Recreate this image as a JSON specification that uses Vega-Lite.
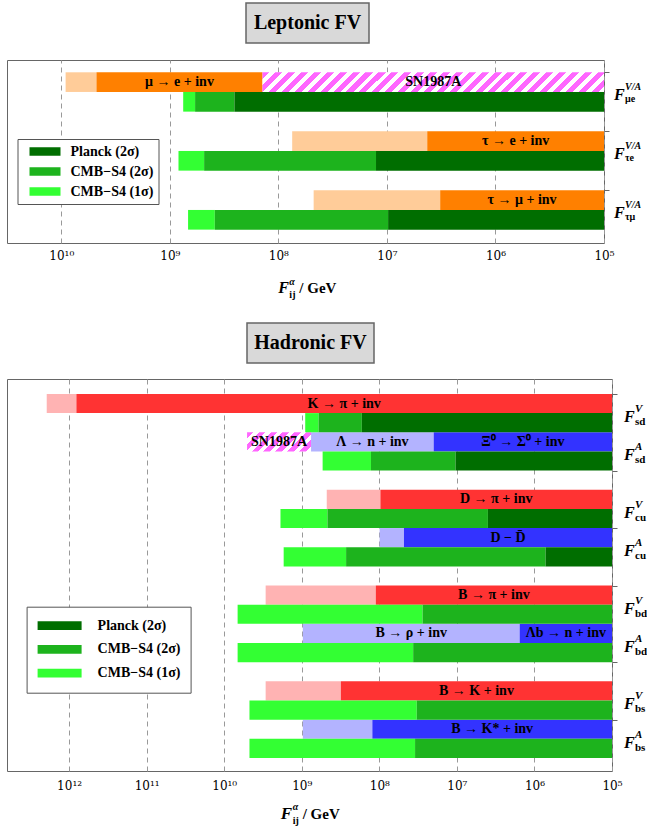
{
  "$schema": "https://vega.github.io/schema/vega-lite/v6.json",
  "padding": {"left": 6, "top": 2, "right": 0, "bottom": 0},
  "background": "white",
  "datasets": {
    "lep_exp": [
      {"slot": 0, "slotEnd": 1, "from": 9120000000, "to": 4740000000, "shade": "light orange"},
      {"slot": 0, "slotEnd": 1, "from": 4740000000, "to": 140000000, "shade": "orange", "label": "μ → e + inv"},
      {"slot": 0, "slotEnd": 1, "from": 140000000, "to": 100000, "shade": "hatch", "label": "SN1987A"},
      {"slot": 3, "slotEnd": 4, "from": 74600000, "to": 4250000, "shade": "light orange"},
      {"slot": 3, "slotEnd": 4, "from": 4250000, "to": 100000, "shade": "orange", "label": "τ → e + inv"},
      {"slot": 6, "slotEnd": 7, "from": 47300000, "to": 3230000, "shade": "light orange"},
      {"slot": 6, "slotEnd": 7, "from": 3230000, "to": 100000, "shade": "orange", "label": "τ → μ + inv"}
    ],
    "lep_cmb": [
      {"slot": 1, "slotEnd": 2, "from": 753000000, "to": 585000000, "source": "CMB−S4 (1σ)"},
      {"slot": 1, "slotEnd": 2, "from": 585000000, "to": 254000000, "source": "CMB−S4 (2σ)"},
      {"slot": 1, "slotEnd": 2, "from": 254000000, "to": 100000, "source": "Planck (2σ)"},
      {"slot": 4, "slotEnd": 5, "from": 832000000, "to": 483000000, "source": "CMB−S4 (1σ)"},
      {"slot": 4, "slotEnd": 5, "from": 483000000, "to": 12600000, "source": "CMB−S4 (2σ)"},
      {"slot": 4, "slotEnd": 5, "from": 12600000, "to": 100000, "source": "Planck (2σ)"},
      {"slot": 7, "slotEnd": 8, "from": 679000000, "to": 385000000, "source": "CMB−S4 (1σ)"},
      {"slot": 7, "slotEnd": 8, "from": 385000000, "to": 9750000, "source": "CMB−S4 (2σ)"},
      {"slot": 7, "slotEnd": 8, "from": 9750000, "to": 100000, "source": "Planck (2σ)"}
    ],
    "lep_F": [
      {"slot": 1, "sup": "V/A", "sub": "μe"},
      {"slot": 4, "sup": "V/A", "sub": "τe"},
      {"slot": 7, "sup": "V/A", "sub": "τμ"}
    ],
    "had_exp": [
      {"slot": 0, "slotEnd": 1, "from": 1940000000000, "to": 804000000000, "shade": "light red"},
      {"slot": 0, "slotEnd": 1, "from": 804000000000, "to": 100000, "shade": "red", "label": "K → π + inv"},
      {"slot": 2, "slotEnd": 3, "from": 5070000000, "to": 759000000, "shade": "hatch", "label": "SN1987A"},
      {"slot": 2, "slotEnd": 3, "from": 759000000, "to": 19900000, "shade": "light blue", "label": "Λ → n + inv"},
      {"slot": 2, "slotEnd": 3, "from": 19900000, "to": 100000, "shade": "blue", "label": "Ξ⁰ → Σ⁰ + inv"},
      {"slot": 5, "slotEnd": 6, "from": 476000000, "to": 96800000, "shade": "light red"},
      {"slot": 5, "slotEnd": 6, "from": 96800000, "to": 100000, "shade": "red", "label": "D → π + inv"},
      {"slot": 7, "slotEnd": 8, "from": 99100000, "to": 48100000, "shade": "light blue"},
      {"slot": 7, "slotEnd": 8, "from": 48100000, "to": 100000, "shade": "blue", "label": "D − D̄"},
      {"slot": 10, "slotEnd": 11, "from": 2920000000, "to": 111000000, "shade": "light red"},
      {"slot": 10, "slotEnd": 11, "from": 111000000, "to": 100000, "shade": "red", "label": "B → π + inv"},
      {"slot": 12, "slotEnd": 13, "from": 968000000, "to": 1550000, "shade": "light blue", "label": "B → ρ + inv"},
      {"slot": 12, "slotEnd": 13, "from": 1550000, "to": 100000, "shade": "blue", "label": "Λb → n + inv"},
      {"slot": 15, "slotEnd": 16, "from": 2920000000, "to": 313000000, "shade": "light red"},
      {"slot": 15, "slotEnd": 16, "from": 313000000, "to": 100000, "shade": "red", "label": "B → K + inv"},
      {"slot": 17, "slotEnd": 18, "from": 968000000, "to": 123000000, "shade": "light blue"},
      {"slot": 17, "slotEnd": 18, "from": 123000000, "to": 100000, "shade": "blue", "label": "B → K* + inv"}
    ],
    "had_cmb": [
      {"slot": 1, "slotEnd": 2, "from": 902000000, "to": 607000000, "source": "CMB−S4 (1σ)"},
      {"slot": 1, "slotEnd": 2, "from": 607000000, "to": 168000000, "source": "CMB−S4 (2σ)"},
      {"slot": 1, "slotEnd": 2, "from": 168000000, "to": 100000, "source": "Planck (2σ)"},
      {"slot": 3, "slotEnd": 4, "from": 538000000, "to": 128000000, "source": "CMB−S4 (1σ)"},
      {"slot": 3, "slotEnd": 4, "from": 128000000, "to": 10400000, "source": "CMB−S4 (2σ)"},
      {"slot": 3, "slotEnd": 4, "from": 10400000, "to": 100000, "source": "Planck (2σ)"},
      {"slot": 6, "slotEnd": 7, "from": 1880000000, "to": 466000000, "source": "CMB−S4 (1σ)"},
      {"slot": 6, "slotEnd": 7, "from": 466000000, "to": 3980000, "source": "CMB−S4 (2σ)"},
      {"slot": 6, "slotEnd": 7, "from": 3980000, "to": 100000, "source": "Planck (2σ)"},
      {"slot": 8, "slotEnd": 9, "from": 1710000000, "to": 268000000, "source": "CMB−S4 (1σ)"},
      {"slot": 8, "slotEnd": 9, "from": 268000000, "to": 718000, "source": "CMB−S4 (2σ)"},
      {"slot": 8, "slotEnd": 9, "from": 718000, "to": 100000, "source": "Planck (2σ)"},
      {"slot": 11, "slotEnd": 12, "from": 6710000000, "to": 27700000, "source": "CMB−S4 (1σ)"},
      {"slot": 11, "slotEnd": 12, "from": 27700000, "to": 100000, "source": "CMB−S4 (2σ)"},
      {"slot": 13, "slotEnd": 14, "from": 6710000000, "to": 36600000, "source": "CMB−S4 (1σ)"},
      {"slot": 13, "slotEnd": 14, "from": 36600000, "to": 100000, "source": "CMB−S4 (2σ)"},
      {"slot": 16, "slotEnd": 17, "from": 4720000000, "to": 32900000, "source": "CMB−S4 (1σ)"},
      {"slot": 16, "slotEnd": 17, "from": 32900000, "to": 100000, "source": "CMB−S4 (2σ)"},
      {"slot": 18, "slotEnd": 19, "from": 4720000000, "to": 34600000, "source": "CMB−S4 (1σ)"},
      {"slot": 18, "slotEnd": 19, "from": 34600000, "to": 100000, "source": "CMB−S4 (2σ)"}
    ],
    "had_F": [
      {"slot": 1, "sup": "V", "sub": "sd"},
      {"slot": 3, "sup": "A", "sub": "sd"},
      {"slot": 6, "sup": "V", "sub": "cu"},
      {"slot": 8, "sup": "A", "sub": "cu"},
      {"slot": 11, "sup": "V", "sub": "bd"},
      {"slot": 13, "sup": "A", "sub": "bd"},
      {"slot": 16, "sup": "V", "sub": "bs"},
      {"slot": 18, "sup": "A", "sub": "bs"}
    ]
  },
  "spacing": 21,
  "resolve": {"scale": {"x": "independent", "y": "independent", "color": "independent", "fill": "independent"}, "legend": {"color": "independent"}},
  "vconcat": [
    {
      "spacing": 15,
      "resolve": {"scale": {"x": "independent", "y": "independent", "color": "independent", "fill": "independent"}, "legend": {"color": "independent"}},
      "vconcat": [
        {
          "spacing": 0,
          "hconcat": [
            {"width": 238, "height": 40, "data": {"values": []}, "mark": {"type": "point", "opacity": 0}},
            {"width": 123, "height": 40, "view": {"fill": "#D9D9D9", "stroke": "#666", "strokeWidth": 1.5},
             "data": {"values": [{"t": "Leptonic FV"}]},
             "mark": {"type": "text", "font": "Liberation Serif", "fontWeight": "bold", "fontSize": 20, "baseline": "middle", "color": "black"},
             "encoding": {"text": {"field": "t"}}}
          ]
        },
        {
          "width": 597, "height": 183,
          "view": {"stroke": "#666", "strokeWidth": 1},
          "layer": [
            {
              "data": {"name": "lep_exp"},
              "transform": [{"filter": "datum.shade !== 'hatch'"}],
              "mark": {"type": "rect"},
              "encoding": {
                "x": {"field": "from", "type": "quantitative",
                  "scale": {"type": "log", "domain": [100000, 31622776600], "reverse": true, "nice": false},
                  "axis": {"values": [10000000000, 1000000000, 100000000, 10000000, 1000000, 100000],
                    "labelExpr": "'10' + (round(log(datum.value)/LN10) >= 10 ? '¹' : '') + ['⁰','¹','²','³','⁴','⁵','⁶','⁷','⁸','⁹'][round(log(datum.value)/LN10) % 10]",
                    "labelFont": "DejaVu Serif", "labelFontSize": 12, "labelColor": "black", "labelPadding": 7,
                    "labelFlush": false, "labelOverlap": false, "ticks": false, "domain": false,
                    "grid": true, "gridDash": [5, 4], "gridColor": "#999", "gridWidth": 1, "title": null}},
                "x2": {"field": "to"},
                "y": {"field": "slot", "type": "quantitative",
                  "scale": {"domain": [-0.625, 8.68], "reverse": true, "nice": false, "zero": false},
                  "axis": {"orient": "right", "values": [0, 2, 3, 5, 6, 8], "labels": false, "ticks": true, "tickSize": 5, "tickColor": "#666", "domain": false, "grid": false, "title": null}},
                "y2": {"field": "slotEnd"},
                "fill": {"field": "shade", "type": "nominal",
                  "scale": {"domain": ["light orange", "orange", "light red", "red", "light blue", "blue"],
                            "range": ["#FFCC99", "#FF8000", "#FFB3B3", "#FF3333", "#B3B3FF", "#3333FF"]},
                  "legend": null}
              }
            },
            {
              "data": {"name": "lep_exp"},
              "transform": [{"filter": "datum.shade === 'hatch'"}],
              "mark": {"type": "rect", "fill": {"gradient": "linear", "x1": 0, "y1": 0, "x2": 1.0543, "y2": 0.0608, "stops": [
                {"offset": 0, "color": "#FF66FF"}, {"offset": 0.0196, "color": "#FF66FF"}, {"offset": 0.0196, "color": "#FFFFFF"}, {"offset": 0.0357, "color": "#FFFFFF"},
                {"offset": 0.0357, "color": "#FF66FF"}, {"offset": 0.0554, "color": "#FF66FF"}, {"offset": 0.0554, "color": "#FFFFFF"}, {"offset": 0.0714, "color": "#FFFFFF"},
                {"offset": 0.0714, "color": "#FF66FF"}, {"offset": 0.0911, "color": "#FF66FF"}, {"offset": 0.0911, "color": "#FFFFFF"}, {"offset": 0.1071, "color": "#FFFFFF"},
                {"offset": 0.1071, "color": "#FF66FF"}, {"offset": 0.1268, "color": "#FF66FF"}, {"offset": 0.1268, "color": "#FFFFFF"}, {"offset": 0.1429, "color": "#FFFFFF"},
                {"offset": 0.1429, "color": "#FF66FF"}, {"offset": 0.1625, "color": "#FF66FF"}, {"offset": 0.1625, "color": "#FFFFFF"}, {"offset": 0.1786, "color": "#FFFFFF"},
                {"offset": 0.1786, "color": "#FF66FF"}, {"offset": 0.1982, "color": "#FF66FF"}, {"offset": 0.1982, "color": "#FFFFFF"}, {"offset": 0.2143, "color": "#FFFFFF"},
                {"offset": 0.2143, "color": "#FF66FF"}, {"offset": 0.2339, "color": "#FF66FF"}, {"offset": 0.2339, "color": "#FFFFFF"}, {"offset": 0.25, "color": "#FFFFFF"},
                {"offset": 0.25, "color": "#FF66FF"}, {"offset": 0.2696, "color": "#FF66FF"}, {"offset": 0.2696, "color": "#FFFFFF"}, {"offset": 0.2857, "color": "#FFFFFF"},
                {"offset": 0.2857, "color": "#FF66FF"}, {"offset": 0.3054, "color": "#FF66FF"}, {"offset": 0.3054, "color": "#FFFFFF"}, {"offset": 0.3214, "color": "#FFFFFF"},
                {"offset": 0.3214, "color": "#FF66FF"}, {"offset": 0.3411, "color": "#FF66FF"}, {"offset": 0.3411, "color": "#FFFFFF"}, {"offset": 0.3571, "color": "#FFFFFF"},
                {"offset": 0.3571, "color": "#FF66FF"}, {"offset": 0.3768, "color": "#FF66FF"}, {"offset": 0.3768, "color": "#FFFFFF"}, {"offset": 0.3929, "color": "#FFFFFF"},
                {"offset": 0.3929, "color": "#FF66FF"}, {"offset": 0.4125, "color": "#FF66FF"}, {"offset": 0.4125, "color": "#FFFFFF"}, {"offset": 0.4286, "color": "#FFFFFF"},
                {"offset": 0.4286, "color": "#FF66FF"}, {"offset": 0.4482, "color": "#FF66FF"}, {"offset": 0.4482, "color": "#FFFFFF"}, {"offset": 0.4643, "color": "#FFFFFF"},
                {"offset": 0.4643, "color": "#FF66FF"}, {"offset": 0.4839, "color": "#FF66FF"}, {"offset": 0.4839, "color": "#FFFFFF"}, {"offset": 0.5, "color": "#FFFFFF"},
                {"offset": 0.5, "color": "#FF66FF"}, {"offset": 0.5196, "color": "#FF66FF"}, {"offset": 0.5196, "color": "#FFFFFF"}, {"offset": 0.5357, "color": "#FFFFFF"},
                {"offset": 0.5357, "color": "#FF66FF"}, {"offset": 0.5554, "color": "#FF66FF"}, {"offset": 0.5554, "color": "#FFFFFF"}, {"offset": 0.5714, "color": "#FFFFFF"},
                {"offset": 0.5714, "color": "#FF66FF"}, {"offset": 0.5911, "color": "#FF66FF"}, {"offset": 0.5911, "color": "#FFFFFF"}, {"offset": 0.6071, "color": "#FFFFFF"},
                {"offset": 0.6071, "color": "#FF66FF"}, {"offset": 0.6268, "color": "#FF66FF"}, {"offset": 0.6268, "color": "#FFFFFF"}, {"offset": 0.6429, "color": "#FFFFFF"},
                {"offset": 0.6429, "color": "#FF66FF"}, {"offset": 0.6625, "color": "#FF66FF"}, {"offset": 0.6625, "color": "#FFFFFF"}, {"offset": 0.6786, "color": "#FFFFFF"},
                {"offset": 0.6786, "color": "#FF66FF"}, {"offset": 0.6982, "color": "#FF66FF"}, {"offset": 0.6982, "color": "#FFFFFF"}, {"offset": 0.7143, "color": "#FFFFFF"},
                {"offset": 0.7143, "color": "#FF66FF"}, {"offset": 0.7339, "color": "#FF66FF"}, {"offset": 0.7339, "color": "#FFFFFF"}, {"offset": 0.75, "color": "#FFFFFF"},
                {"offset": 0.75, "color": "#FF66FF"}, {"offset": 0.7696, "color": "#FF66FF"}, {"offset": 0.7696, "color": "#FFFFFF"}, {"offset": 0.7857, "color": "#FFFFFF"},
                {"offset": 0.7857, "color": "#FF66FF"}, {"offset": 0.8054, "color": "#FF66FF"}, {"offset": 0.8054, "color": "#FFFFFF"}, {"offset": 0.8214, "color": "#FFFFFF"},
                {"offset": 0.8214, "color": "#FF66FF"}, {"offset": 0.8411, "color": "#FF66FF"}, {"offset": 0.8411, "color": "#FFFFFF"}, {"offset": 0.8571, "color": "#FFFFFF"},
                {"offset": 0.8571, "color": "#FF66FF"}, {"offset": 0.8768, "color": "#FF66FF"}, {"offset": 0.8768, "color": "#FFFFFF"}, {"offset": 0.8929, "color": "#FFFFFF"},
                {"offset": 0.8929, "color": "#FF66FF"}, {"offset": 0.9125, "color": "#FF66FF"}, {"offset": 0.9125, "color": "#FFFFFF"}, {"offset": 0.9286, "color": "#FFFFFF"},
                {"offset": 0.9286, "color": "#FF66FF"}, {"offset": 0.9482, "color": "#FF66FF"}, {"offset": 0.9482, "color": "#FFFFFF"}, {"offset": 0.9643, "color": "#FFFFFF"},
                {"offset": 0.9643, "color": "#FF66FF"}, {"offset": 0.9839, "color": "#FF66FF"}, {"offset": 0.9839, "color": "#FFFFFF"}, {"offset": 1, "color": "#FFFFFF"}
              ]}},
              "encoding": {
                "x": {"field": "from", "type": "quantitative"},
                "x2": {"field": "to"},
                "y": {"field": "slot", "type": "quantitative"},
                "y2": {"field": "slotEnd"}
              }
            },
            {
              "data": {"name": "lep_cmb"},
              "mark": {"type": "rect"},
              "encoding": {
                "x": {"field": "from", "type": "quantitative"},
                "x2": {"field": "to"},
                "y": {"field": "slot", "type": "quantitative"},
                "y2": {"field": "slotEnd"},
                "color": {"field": "source", "type": "nominal",
                  "scale": {"domain": ["Planck (2σ)", "CMB−S4 (2σ)", "CMB−S4 (1σ)"], "range": ["#006E00", "#1DB31D", "#33FF33"]},
                  "legend": {"orient": "none", "legendX": 10.5, "legendY": 79, "title": null,
                    "symbolType": "M-1,-0.27H1V0.27H-1Z", "symbolSize": 961, "symbolStrokeWidth": 0, "symbolOpacity": 1,
                    "symbolOffset": 7, "labelOffset": 10,
                    "labelFont": "Liberation Serif", "labelFontSize": 14, "labelFontWeight": "bold", "labelColor": "black",
                    "padding": 5, "rowPadding": 5, "clipHeight": 15,
                    "strokeColor": "#555", "fillColor": "white"}}
              }
            },
            {
              "data": {"name": "lep_exp"},
              "transform": [{"filter": "datum.label"}, {"calculate": "sqrt(datum.from*datum.to)", "as": "mid"}, {"calculate": "datum.slot + 0.5", "as": "ymid"}],
              "mark": {"type": "text", "font": "Liberation Serif", "fontWeight": "bold", "fontSize": 14, "baseline": "middle", "color": "black"},
              "encoding": {
                "x": {"field": "mid", "type": "quantitative"},
                "y": {"field": "ymid", "type": "quantitative"},
                "text": {"field": "label"}
              }
            },
            {
              "data": {"name": "lep_F"},
              "mark": {"type": "text", "text": "F", "font": "Liberation Serif", "fontStyle": "italic", "fontWeight": "bold", "fontSize": 16, "align": "left", "baseline": "alphabetic", "dx": 10, "dy": 8, "color": "black"},
              "encoding": {"x": {"datum": 100000, "type": "quantitative"}, "y": {"field": "slot", "type": "quantitative"}}
            },
            {
              "data": {"name": "lep_F"},
              "mark": {"type": "text", "font": "Liberation Serif", "fontStyle": "italic", "fontWeight": "bold", "fontSize": 10, "align": "left", "baseline": "alphabetic", "dx": 21, "dy": -2, "color": "black"},
              "encoding": {"x": {"datum": 100000, "type": "quantitative"}, "y": {"field": "slot", "type": "quantitative"}, "text": {"field": "sup"}}
            },
            {
              "data": {"name": "lep_F"},
              "mark": {"type": "text", "font": "Liberation Serif", "fontWeight": "bold", "fontSize": 10, "align": "left", "baseline": "alphabetic", "dx": 21, "dy": 10, "color": "black"},
              "encoding": {"x": {"datum": 100000, "type": "quantitative"}, "y": {"field": "slot", "type": "quantitative"}, "text": {"field": "sub"}}
            },
            {
              "data": {"values": [{}]},
              "mark": {"type": "text", "text": "F", "font": "Liberation Serif", "fontStyle": "italic", "fontWeight": "bold", "fontSize": 16, "align": "left", "baseline": "alphabetic", "dx": -27, "dy": 50, "color": "black"},
              "encoding": {"x": {"datum": 56400000, "type": "quantitative"}, "y": {"datum": 8.68, "type": "quantitative"}}
            },
            {
              "data": {"values": [{}]},
              "mark": {"type": "text", "text": "α", "font": "Liberation Serif", "fontStyle": "italic", "fontWeight": "bold", "fontSize": 10, "align": "left", "baseline": "alphabetic", "dx": -16, "dy": 42, "color": "black"},
              "encoding": {"x": {"datum": 56400000, "type": "quantitative"}, "y": {"datum": 8.68, "type": "quantitative"}}
            },
            {
              "data": {"values": [{}]},
              "mark": {"type": "text", "text": "ij", "font": "Liberation Serif", "fontWeight": "bold", "fontSize": 10, "align": "left", "baseline": "alphabetic", "dx": -16, "dy": 55, "color": "black"},
              "encoding": {"x": {"datum": 56400000, "type": "quantitative"}, "y": {"datum": 8.68, "type": "quantitative"}}
            },
            {
              "data": {"values": [{}]},
              "mark": {"type": "text", "text": "/ GeV", "font": "Liberation Serif", "fontWeight": "bold", "fontSize": 15, "align": "left", "baseline": "alphabetic", "dx": -6, "dy": 50, "color": "black"},
              "encoding": {"x": {"datum": 56400000, "type": "quantitative"}, "y": {"datum": 8.68, "type": "quantitative"}}
            }
          ]
        }
      ]
    },
    {
      "spacing": 14,
      "resolve": {"scale": {"x": "independent", "y": "independent", "color": "independent", "fill": "independent"}, "legend": {"color": "independent"}},
      "vconcat": [
        {
          "spacing": 0,
          "hconcat": [
            {"width": 239, "height": 40, "data": {"values": []}, "mark": {"type": "point", "opacity": 0}},
            {"width": 127, "height": 40, "view": {"fill": "#D9D9D9", "stroke": "#666", "strokeWidth": 1.5},
             "data": {"values": [{"t": "Hadronic FV"}]},
             "mark": {"type": "text", "font": "Liberation Serif", "fontWeight": "bold", "fontSize": 20, "baseline": "middle", "color": "black"},
             "encoding": {"text": {"field": "t"}}}
          ]
        },
        {
          "width": 605, "height": 392,
          "view": {"stroke": "#666", "strokeWidth": 1},
          "layer": [
            {
              "data": {"name": "had_exp"},
              "transform": [{"filter": "datum.shade !== 'hatch'"}],
              "mark": {"type": "rect"},
              "encoding": {
                "x": {"field": "from", "type": "quantitative",
                  "scale": {"type": "log", "domain": [100000, 6309573445000], "reverse": true, "nice": false},
                  "axis": {"values": [1000000000000, 100000000000, 10000000000, 1000000000, 100000000, 10000000, 1000000, 100000],
                    "labelExpr": "'10' + (round(log(datum.value)/LN10) >= 10 ? '¹' : '') + ['⁰','¹','²','³','⁴','⁵','⁶','⁷','⁸','⁹'][round(log(datum.value)/LN10) % 10]",
                    "labelFont": "DejaVu Serif", "labelFontSize": 12, "labelColor": "black", "labelPadding": 9,
                    "labelFlush": false, "labelOverlap": false, "ticks": false, "domain": false,
                    "grid": true, "gridDash": [5, 4], "gridColor": "#999", "gridWidth": 1, "title": null}},
                "x2": {"field": "to"},
                "y": {"field": "slot", "type": "quantitative",
                  "scale": {"domain": [-0.78, 19.68], "reverse": true, "nice": false, "zero": false},
                  "axis": {"orient": "right", "values": [0, 2, 4, 5, 7, 9, 10, 12, 14, 15, 17, 19], "labels": false, "ticks": true, "tickSize": 5, "tickColor": "#666", "domain": false, "grid": false, "title": null}},
                "y2": {"field": "slotEnd"},
                "fill": {"field": "shade", "type": "nominal",
                  "scale": {"domain": ["light orange", "orange", "light red", "red", "light blue", "blue"],
                            "range": ["#FFCC99", "#FF8000", "#FFB3B3", "#FF3333", "#B3B3FF", "#3333FF"]},
                  "legend": null}
              }
            },
            {
              "data": {"name": "had_exp"},
              "transform": [{"filter": "datum.shade === 'hatch'"}],
              "mark": {"type": "rect", "fill": {"gradient": "linear", "x1": 0, "y1": 0, "x2": 1.1917, "y2": 0.3568, "stops": [
                {"offset": 0, "color": "#FF66FF"}, {"offset": 0.0786, "color": "#FF66FF"}, {"offset": 0.0786, "color": "#FFFFFF"}, {"offset": 0.1429, "color": "#FFFFFF"},
                {"offset": 0.1429, "color": "#FF66FF"}, {"offset": 0.2214, "color": "#FF66FF"}, {"offset": 0.2214, "color": "#FFFFFF"}, {"offset": 0.2857, "color": "#FFFFFF"},
                {"offset": 0.2857, "color": "#FF66FF"}, {"offset": 0.3643, "color": "#FF66FF"}, {"offset": 0.3643, "color": "#FFFFFF"}, {"offset": 0.4286, "color": "#FFFFFF"},
                {"offset": 0.4286, "color": "#FF66FF"}, {"offset": 0.5071, "color": "#FF66FF"}, {"offset": 0.5071, "color": "#FFFFFF"}, {"offset": 0.5714, "color": "#FFFFFF"},
                {"offset": 0.5714, "color": "#FF66FF"}, {"offset": 0.65, "color": "#FF66FF"}, {"offset": 0.65, "color": "#FFFFFF"}, {"offset": 0.7143, "color": "#FFFFFF"},
                {"offset": 0.7143, "color": "#FF66FF"}, {"offset": 0.7929, "color": "#FF66FF"}, {"offset": 0.7929, "color": "#FFFFFF"}, {"offset": 0.8571, "color": "#FFFFFF"},
                {"offset": 0.8571, "color": "#FF66FF"}, {"offset": 0.9357, "color": "#FF66FF"}, {"offset": 0.9357, "color": "#FFFFFF"}, {"offset": 1, "color": "#FFFFFF"}
              ]}},
              "encoding": {
                "x": {"field": "from", "type": "quantitative"},
                "x2": {"field": "to"},
                "y": {"field": "slot", "type": "quantitative"},
                "y2": {"field": "slotEnd"}
              }
            },
            {
              "data": {"name": "had_cmb"},
              "mark": {"type": "rect"},
              "encoding": {
                "x": {"field": "from", "type": "quantitative"},
                "x2": {"field": "to"},
                "y": {"field": "slot", "type": "quantitative"},
                "y2": {"field": "slotEnd"},
                "color": {"field": "source", "type": "nominal",
                  "scale": {"domain": ["Planck (2σ)", "CMB−S4 (2σ)", "CMB−S4 (1σ)"], "range": ["#006E00", "#1DB31D", "#33FF33"]},
                  "legend": {"orient": "none", "legendX": 19.6, "legendY": 227.7, "title": null,
                    "symbolType": "M-1,-0.2H1V0.2H-1Z", "symbolSize": 1936, "symbolStrokeWidth": 0, "symbolOpacity": 1,
                    "symbolOffset": 1, "labelOffset": 16,
                    "labelFont": "Liberation Serif", "labelFontSize": 14, "labelFontWeight": "bold", "labelColor": "black",
                    "padding": 10, "rowPadding": 5.7, "clipHeight": 18,
                    "strokeColor": "#555", "fillColor": "white"}}
              }
            },
            {
              "data": {"name": "had_exp"},
              "transform": [{"filter": "datum.label"}, {"calculate": "sqrt(datum.from*datum.to)", "as": "mid"}, {"calculate": "datum.slot + 0.5", "as": "ymid"}],
              "mark": {"type": "text", "font": "Liberation Serif", "fontWeight": "bold", "fontSize": 14, "baseline": "middle", "color": "black"},
              "encoding": {
                "x": {"field": "mid", "type": "quantitative"},
                "y": {"field": "ymid", "type": "quantitative"},
                "text": {"field": "label"}
              }
            },
            {
              "data": {"name": "had_F"},
              "mark": {"type": "text", "text": "F", "font": "Liberation Serif", "fontStyle": "italic", "fontWeight": "bold", "fontSize": 16, "align": "left", "baseline": "alphabetic", "dx": 12, "dy": 9, "color": "black"},
              "encoding": {"x": {"datum": 100000, "type": "quantitative"}, "y": {"field": "slot", "type": "quantitative"}}
            },
            {
              "data": {"name": "had_F"},
              "mark": {"type": "text", "font": "Liberation Serif", "fontStyle": "italic", "fontWeight": "bold", "fontSize": 11, "align": "left", "baseline": "alphabetic", "dx": 23, "dy": -1, "color": "black"},
              "encoding": {"x": {"datum": 100000, "type": "quantitative"}, "y": {"field": "slot", "type": "quantitative"}, "text": {"field": "sup"}}
            },
            {
              "data": {"name": "had_F"},
              "mark": {"type": "text", "font": "Liberation Serif", "fontWeight": "bold", "fontSize": 11, "align": "left", "baseline": "alphabetic", "dx": 23, "dy": 12, "color": "black"},
              "encoding": {"x": {"datum": 100000, "type": "quantitative"}, "y": {"field": "slot", "type": "quantitative"}, "text": {"field": "sub"}}
            },
            {
              "data": {"values": [{}]},
              "mark": {"type": "text", "text": "F", "font": "Liberation Serif", "fontStyle": "italic", "fontWeight": "bold", "fontSize": 17, "align": "left", "baseline": "alphabetic", "dx": -29, "dy": 48, "color": "black"},
              "encoding": {"x": {"datum": 791000000, "type": "quantitative"}, "y": {"datum": 19.68, "type": "quantitative"}}
            },
            {
              "data": {"values": [{}]},
              "mark": {"type": "text", "text": "α", "font": "Liberation Serif", "fontStyle": "italic", "fontWeight": "bold", "fontSize": 10, "align": "left", "baseline": "alphabetic", "dx": -17, "dy": 39, "color": "black"},
              "encoding": {"x": {"datum": 791000000, "type": "quantitative"}, "y": {"datum": 19.68, "type": "quantitative"}}
            },
            {
              "data": {"values": [{}]},
              "mark": {"type": "text", "text": "ij", "font": "Liberation Serif", "fontWeight": "bold", "fontSize": 10, "align": "left", "baseline": "alphabetic", "dx": -17, "dy": 53, "color": "black"},
              "encoding": {"x": {"datum": 791000000, "type": "quantitative"}, "y": {"datum": 19.68, "type": "quantitative"}}
            },
            {
              "data": {"values": [{}]},
              "mark": {"type": "text", "text": "/ GeV", "font": "Liberation Serif", "fontWeight": "bold", "fontSize": 15, "align": "left", "baseline": "alphabetic", "dx": -7, "dy": 48, "color": "black"},
              "encoding": {"x": {"datum": 791000000, "type": "quantitative"}, "y": {"datum": 19.68, "type": "quantitative"}}
            }
          ]
        }
      ]
    }
  ],
  "config": {
    "view": {"stroke": null},
    "font": "Liberation Serif"
  }
}
